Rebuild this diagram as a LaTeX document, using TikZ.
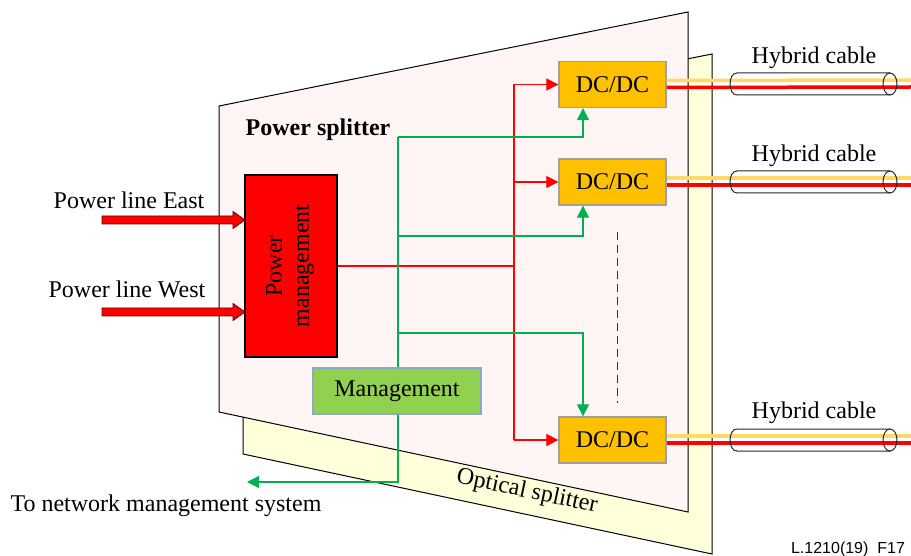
\documentclass[tikz,border=0pt]{standalone}
\usepackage{fontspec}
\setmainfont{Liberation Serif}
\newfontfamily\sansf{Liberation Sans}
\usetikzlibrary{arrows.meta,calc}
\definecolor{pinkbg}{HTML}{FFF5F5}
\definecolor{yelbg}{HTML}{FFFFDA}
\definecolor{mgreen}{HTML}{92D050}
\definecolor{lgreen}{HTML}{00B050}
\definecolor{dcor}{HTML}{FFC000}
\definecolor{cablelt}{HTML}{FFD966}
\definecolor{mgborder}{HTML}{8EA9C8}
\definecolor{dcborder}{HTML}{A0A0A0}
\begin{document}
\begin{tikzpicture}[x=1pt,y=-1pt,
  font=\fontsize{24}{27}\selectfont,
  panel/.style={draw=black, line width=1pt},
  box/.style={draw, line width=1.3pt, inner sep=0pt, align=center},
  dcbox/.style={box, fill=dcor, draw=dcborder, minimum width=107pt, minimum height=46pt},
  rline/.style={draw=red, line width=1.2pt},
  gline/.style={draw=lgreen, line width=1.2pt},
  tip/.style={-{Triangle[length=12pt,width=12pt]}},
  fatarrow/.style={fill=red, draw=black!60!red, line width=0.8pt},
  cablelight/.style={draw=cablelt, line width=3.5pt},
  cablered/.style={draw=red, line width=3.5pt},
  cyl/.style={draw=black!85, line width=1pt},
  lbl/.style={inner sep=0pt}
]
\useasboundingbox (0,0) rectangle (911,556);

% optical splitter (behind)
\filldraw[panel, fill=yelbg] (243,148) -- (712,54) -- (712,554) -- (243,454) -- cycle;
% power splitter
\filldraw[panel, fill=pinkbg] (219,106) -- (688,12) -- (688,512) -- (219,412) -- cycle;

\node[lbl, rotate=-12] (optlbl) at (527,492) {Optical splitter};
\node[lbl, font=\fontsize{24}{27}\selectfont\bfseries] (pslbl) at (318,130) {Power splitter};

% boxes
\node[box, fill=red, draw=black, minimum width=92pt, minimum height=182pt] (pm) at (291,266) {};
\node[lbl, rotate=90, align=center] (pmtxt) at ([xshift=-1pt]pm.center) {Power\\management};
\node[box, fill=mgreen, draw=mgborder, minimum width=168pt, minimum height=46pt] (mg) at (397,391) {Management};
\node[dcbox] (dc1) at (612.5,84.5) {DC/DC};
\node[dcbox] (dc2) at (612.5,182) {DC/DC};
\node[dcbox] (dc3) at (612.5,440) {DC/DC};

% power line inputs
\node[lbl] (east) at (129,200) {Power line East};
\node[lbl] (west) at (127,289) {Power line West};
\filldraw[fatarrow] (102,216) -- (233,216) -- (233,211.5) -- (245,220) -- (233,228.5) -- (233,224) -- (102,224) -- cycle;
\filldraw[fatarrow] (102,308) -- (233,308) -- (233,303.5) -- (245,312) -- (233,320.5) -- (233,316) -- (102,316) -- cycle;

% red power distribution
\coordinate (rt) at (514,84.5);
\coordinate (rb) at (514,440);
\draw[rline] (pm.east) -- (pm.east -| rt);
\draw[rline] (rt) -- (rb);
\draw[rline, tip] (rt) -- (dc1.west);
\draw[rline, tip] (rt |- dc2.west) -- (dc2.west);
\draw[rline, tip] (rb) -- (dc3.west);

% green management lines
\coordinate (g1) at (398,137);
\coordinate (g2) at (398,236);
\coordinate (g3) at (398,333);
\coordinate (gx) at (583,0);
\draw[gline] (mg.north -| g1) -- (g1);
\draw[gline, tip] (g1) -| (gx |- dc1.south);
\draw[gline, tip] (g2) -| (gx |- dc2.south);
\draw[gline, tip] (g3) -| (gx |- dc3.north);
\coordinate (nms) at (247,482);
\draw[gline, tip] (mg.south -| g1) |- (nms);
\node[lbl] (nmslbl) at (166,506) {To network management system};

% dashed continuation
\coordinate (d1) at (617,232);
\coordinate (d2) at (617,403);
\draw[line width=1pt, dash pattern=on 8pt off 5pt, black!80] (d1) -- (d2);

% hybrid cables
\foreach \n/\yc in {1/84, 2/182, 3/440} {
  \coordinate (ce\n) at (911,\yc);
  \draw[cablelight] ([yshift=4pt]dc\n.east) -- ([yshift=4pt]ce\n);
  \draw[cablered] ([yshift=-3pt]dc\n.east) -- ([yshift=-3pt]ce\n);
  \draw[cyl] (890,\yc-11) -- (737,\yc-11) .. controls (727.7,\yc-11) and (727.7,\yc+11) .. (737,\yc+11) -- (890,\yc+11);
  \draw[cyl] (890,\yc) ellipse [x radius=7, y radius=11];
}
\node[lbl] (hc1) at (814,58) {Hybrid cable};
\node[lbl] (hc2) at (814,156) {Hybrid cable};
\node[lbl] (hc3) at (814,413) {Hybrid cable};

\node[lbl, font=\sansf\fontsize{16}{18}\selectfont] (ref) at (848,549) {L.1210(19)\ \ F17};
\end{tikzpicture}
\end{document}
